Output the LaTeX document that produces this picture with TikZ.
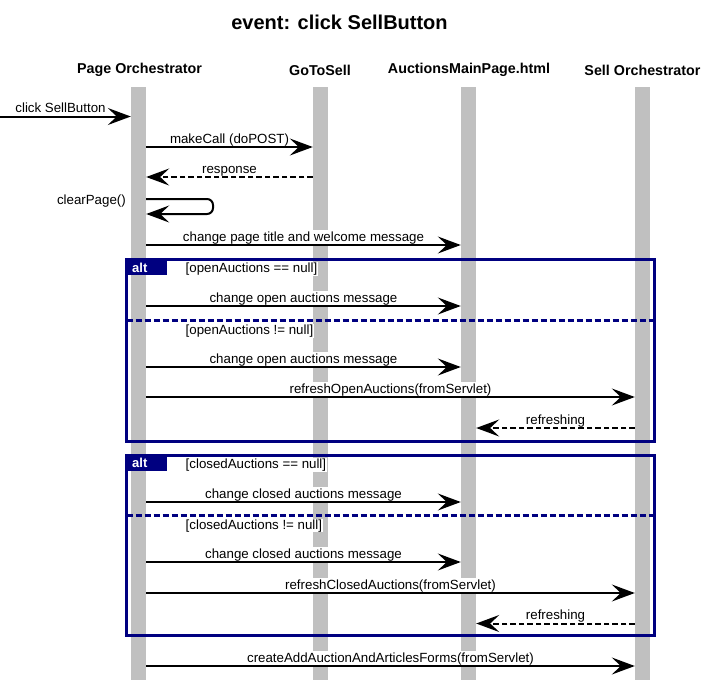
\documentclass[tikz,border=0pt]{standalone}
\usepackage{fontspec}
\setmainfont{Liberation Sans}
\usetikzlibrary{arrows.meta}
\definecolor{barc}{HTML}{C0C0C0}
\definecolor{navyc}{HTML}{000080}
\tikzset{
  lifebar/.style={fill=barc, draw=none, minimum width=15pt, minimum height=593pt, inner sep=0pt},
  hdr/.style={font=\fontsize{14.3}{16}\selectfont\bfseries, inner sep=0pt},
  lbl/.style={font=\fontsize{13.3}{15}\selectfont, fill=white, inner xsep=1pt, inner ysep=1pt,
              text height=10pt, text depth=2.6pt, anchor=base, yshift=3.8pt},
  msg/.style={line width=2pt, -{Stealth[length=23pt,width=17pt,inset=9pt]}},
  ret/.style={msg, dash pattern=on 5.5pt off 3pt},
  framebox/.style={draw=navyc, line width=3pt},
  sepline/.style={draw=navyc, line width=3pt, dash pattern=on 6pt off 3pt},
  guard/.style={font=\fontsize{13.3}{15}\selectfont, fill=white, inner sep=0.5pt, anchor=base west},
  alttab/.style={fill=navyc, draw=none, text=white, font=\fontsize{13}{15}\selectfont\bfseries,
                 anchor=north west, text width=29pt, align=left, inner xsep=5.5pt, inner ysep=0pt,
                 minimum height=15.5pt},
}
\newcommand\Msg[5]{%
  \coordinate (row) at (0,#4);
  \path (#2 |- row) -- (#3 |- row) node[lbl,midway]{#5};
  \draw[#1] (#2 |- row) -- (#3 |- row);}
\begin{document}
\begin{tikzpicture}[x=1pt,y=-1pt]
\useasboundingbox (0,0) rectangle (726,683);
% title and headers
\node[font=\fontsize{20}{24}\selectfont\bfseries, inner sep=0pt] (title) at (339.5,22) {event: click SellButton};
\node[hdr] (hpo) at (139.5,70) {Page Orchestrator};
\node[hdr] (hgts) at (320,70) {GoToSell};
\node[hdr] (hamp) at (469,70) {AuctionsMainPage.html};
\node[hdr] (hso) at (642.5,70) {Sell Orchestrator};
% lifelines
\node[lifebar] (po) at (138.5,383.5) {};
\node[lifebar] (gts) at (320.5,383.5) {};
\node[lifebar] (amp) at (468.5,383.5) {};
\node[lifebar] (sop) at (642.5,383.5) {};
% found message
\coordinate (start) at (0,116.5);
\node[lbl] (lclick) at (60.5,116.5) {click SellButton};
\draw[msg] (start) -- (po.west |- start);
\Msg{msg}{po.east}{gts.west}{147}{makeCall (doPOST)}
\Msg{ret}{gts.west}{po.east}{177}{response}
% self call
\node[font=\fontsize{13.3}{15}\selectfont, inner sep=0pt, anchor=base east] (lclear) at (126,204) {clearPage()};
\coordinate (s1) at (0,199);
\coordinate (s2) at (0,214);
\draw[msg, rounded corners=6pt] (po.east |- s1) -- (213,199) -- (213,214) -- (po.east |- s2);
\Msg{msg}{po.east}{amp.west}{245}{change page title and welcome message}
% alt 1
\node[guard] (g1) at (185,272.5) {[openAuctions == null]};
\Msg{msg}{po.east}{amp.west}{306}{change open auctions message}
\node[guard] (g2) at (185,334.5) {[openAuctions != null]};
\Msg{msg}{po.east}{amp.west}{367}{change open auctions message}
\Msg{msg}{po.east}{sop.west}{397}{refreshOpenAuctions(fromServlet)}
\Msg{ret}{sop.west}{amp.east}{428}{refreshing}
% alt 2
\node[guard] (g3) at (185,468.5) {[closedAuctions == null]};
\Msg{msg}{po.east}{amp.west}{502}{change closed auctions message}
\node[guard] (g4) at (185,529) {[closedAuctions != null]};
\Msg{msg}{po.east}{amp.west}{562}{change closed auctions message}
\Msg{msg}{po.east}{sop.west}{593}{refreshClosedAuctions(fromServlet)}
\Msg{ret}{sop.west}{amp.east}{623.5}{refreshing}
\Msg{msg}{po.east}{sop.west}{666}{createAddAuctionAndArticlesForms(fromServlet)}
% frames
\draw[framebox] (126.5,259.5) rectangle (654.5,441.3);
\node[alttab] (tab1) at (126.5,259.5) {alt};
\draw[sepline] (126.5,320) -- (654.5,320);
\draw[framebox] (126.5,455.3) rectangle (654.5,635.5);
\node[alttab] (tab2) at (126.5,455.3) {alt};
\draw[sepline] (126.5,515.3) -- (654.5,515.3);
\end{tikzpicture}
\end{document}
